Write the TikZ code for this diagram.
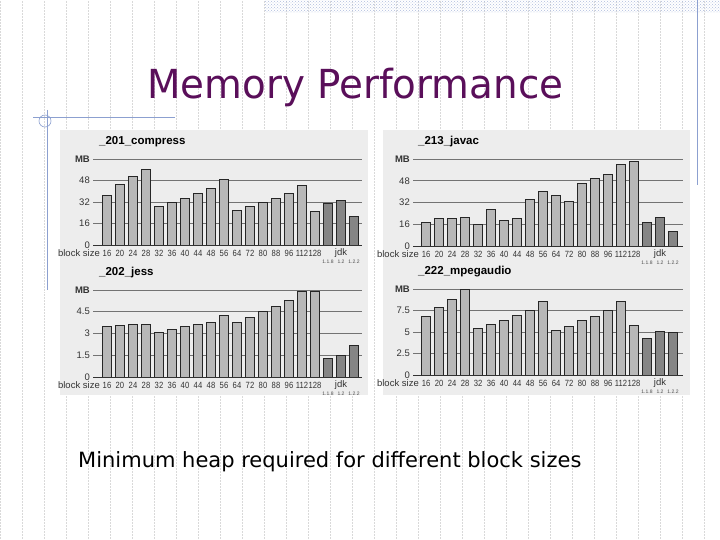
\documentclass[tikz,border=0pt]{standalone}
\usepackage{fontspec}
\setmainfont{Liberation Sans}
\newfontfamily\tahoma{DejaVu Sans}
\usetikzlibrary{patterns}
\definecolor{titlec}{HTML}{5A0F5A}
\definecolor{bluel}{HTML}{8CA0D0}
\definecolor{panel}{HTML}{EDEDED}
\tikzset{gridl/.style={draw=black!55,line width=0.7pt},
 tick/.style={font=\fontsize{9.5}{10}\selectfont,inner sep=0pt,text=black!80},
 xtick/.style={font=\fontsize{9}{10}\selectfont,inner sep=0pt,text=black!80,xscale=0.85},
 tiny/.style={font=\fontsize{5}{5}\selectfont,inner sep=0pt,text=black!70},
 ctitle/.style={font=\bfseries\fontsize{11.5}{12}\selectfont,inner sep=0pt,anchor=west}}
\newcommand\drawchart[9]{%
 \foreach \i/\l in {#9}{%
  \pgfmathsetmacro\yy{#3+(#4-#3)*\i/4}
  \draw[gridl] (#1,\yy) -- (#2,\yy);
  \node[tick,anchor=east] at (#1-3,\yy) {\l};}
 \foreach \v [count=\k from 0] in {#6}{%
  \pgfmathsetmacro\xx{#5+13*\k}
  \pgfmathsetmacro\yy{#3+(#4-#3)*\v/#7}
  \pgfmathtruncatemacro\gg{\k>16?48:28}
  \draw[fill=black!\gg,line width=0.9pt,draw=black!85] (\xx-4.3,#3) rectangle (\xx+4.3,\yy);}
 \draw[black!80,line width=0.8pt] (#1,#3) -- (#2,#3);
 \foreach \t [count=\k from 0] in {16,20,24,28,32,36,40,44,48,56,64,72,80,88,96,112,128}{%
  \node[xtick] at (#5+13*\k,#3+8) {\t};}
 \node[tick,anchor=east] at (#5-7,#3+8) {block size};
 \node[tick] at (#5+13*18,#3+8) {jdk};
 \node[tiny] at (#5+13*17,#3+17) {1.1.8};
 \node[tiny] at (#5+13*18,#3+17) {1.2};
 \node[tiny] at (#5+13*19,#3+17) {1.2.2};
 \node[ctitle] at (#5-8,#4-17) {#8};
}
\begin{document}
\begin{tikzpicture}[x=1pt,y=-1pt]
\useasboundingbox (0,0) rectangle (720,540);
\fill[white] (0,0) rectangle (720,540);
\draw[black!15,densely dotted,line width=0.5pt] (0,0) grid[step=22] (720,540);
\fill[pattern=crosshatch dots,pattern color=bluel!70] (265,0) rectangle (720,13);
\draw[bluel,line width=0.8pt] (697,0) -- (697,185);
\draw[bluel,line width=0.8pt] (33,117) -- (175,117);
\draw[bluel,line width=0.8pt] (47,110) -- (47,290);
\draw[bluel,line width=0.6pt] (45,121) circle (6);
\node[font=\tahoma\fontsize{40}{44}\selectfont,text=titlec,inner sep=0pt,anchor=west,xscale=0.97] (title) at (147,87) {Memory Performance};
\fill[panel] (60,130) rectangle (368,262);
\fill[panel] (383,130) rectangle (690,262);
\fill[panel] (60,262) rectangle (368,395);
\fill[panel] (383,262) rectangle (690,395);
\drawchart{93}{362}{245}{159}{107}{37,45,51,56,29,32,35,38,42,49,26,29,32,35,38,44,25,31,33,21}{64}{\_201\_compress}{0/0,1/16,2/32,3/48,4/\textbf{MB}}
\drawchart{413}{683}{246}{159}{426}{17,20,20.5,21,16,27,19,20.5,34,40,37,33,46,50,53,60,62,17,21,11}{64}{\_213\_javac}{0/0,1/16,2/32,3/48,4/\textbf{MB}}
\drawchart{93}{362}{377}{290}{107}{3.7,3.8,3.9,3.9,3.3,3.5,3.7,3.9,4.0,4.5,4.0,4.4,4.8,5.2,5.6,6.3,6.3,1.4,1.6,2.3}{6.4}{\_202\_jess}{0/0,1/1.5,2/3,3/4.5,4/\textbf{MB}}
\drawchart{413}{683}{375}{289}{426}{6.8,7.9,8.8,9.9,5.4,5.9,6.4,6.9,7.5,8.5,5.2,5.7,6.3,6.8,7.5,8.6,5.8,4.3,5.1,5.0}{10}{\_222\_mpegaudio}{0/0,1/2.5,2/5,3/7.5,4/\textbf{MB}}
\node[font=\tahoma\fontsize{21}{22}\selectfont,inner sep=0pt,anchor=west] (cap) at (78,462) {Minimum heap required for different block sizes};
\end{tikzpicture}
\end{document}
